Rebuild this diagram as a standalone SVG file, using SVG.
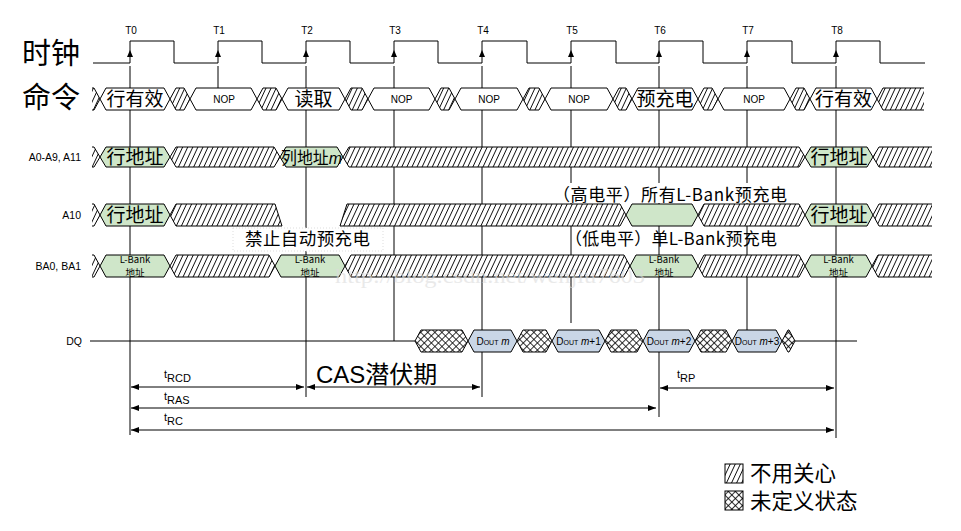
<svg xmlns="http://www.w3.org/2000/svg" width="961" height="531" viewBox="0 0 961 531">
<style>
.ln{stroke:#000;stroke-width:1;fill:none}
.hx{fill:url(#hatch);stroke:#000;stroke-width:1}
.hf{fill:url(#hatch);stroke:none}
.xh{fill:url(#xhatch);stroke:#000;stroke-width:1}
.wh{fill:#fff;stroke:#000;stroke-width:1}
.gr{fill:#cfe6c9;stroke:#000;stroke-width:1}
.bl{fill:#c9d6e6;stroke:#000;stroke-width:1}
.sm{font-family:"Liberation Sans",Arial,sans-serif;font-size:10.5px;fill:#000}
.nop{font-family:"Liberation Sans",Arial,sans-serif;font-size:10px;fill:#000;text-anchor:middle}
.cj{font-family:"Noto Sans CJK SC","Noto Sans",sans-serif;fill:#000}
.hz{font-size:19px;text-anchor:middle}
.lb{font-size:9.5px;text-anchor:middle}
.tm{font-family:"Liberation Sans",Arial,sans-serif;font-size:11px;fill:#000}
.dq{font-family:"Liberation Sans",Arial,sans-serif;font-size:10px;fill:#000;text-anchor:middle}
.sc{font-variant:small-caps}
.ar{stroke:#000;stroke-width:1;fill:none;marker-start:url(#ah);marker-end:url(#ah)}
</style>
<defs>
<pattern id="hatch" patternUnits="userSpaceOnUse" width="4.6" height="10" patternTransform="rotate(25)">
<rect width="4.6" height="10" fill="#fff"/>
<line x1="2.3" y1="-1" x2="2.3" y2="11" stroke="#000" stroke-width="0.9"/>
</pattern>
<pattern id="xhatch" patternUnits="userSpaceOnUse" width="5" height="5" patternTransform="rotate(45)">
<rect width="5" height="5" fill="#fff"/>
<path d="M2.5,0 V5 M0,2.5 H5" stroke="#000" stroke-width="0.8"/>
</pattern>
<marker id="ah" viewBox="0 0 8 6" refX="8" refY="3" markerWidth="8" markerHeight="6" markerUnits="userSpaceOnUse" orient="auto-start-reverse">
<path d="M0,0 L8,3 L0,6 z" fill="#000"/>
</marker>
</defs>
<rect width="961" height="531" fill="#fff"/>

<g id="labels-left">
<text class="cj" x="22" y="63.5" font-size="29">时钟</text>
<text class="cj" x="22" y="107.5" font-size="29">命令</text>
<text class="sm" x="81" y="161" text-anchor="end">A0-A9, A11</text>
<text class="sm" x="81" y="219" text-anchor="end">A10</text>
<text class="sm" x="81" y="270" text-anchor="end">BA0, BA1</text>
<text class="sm" x="82" y="345" text-anchor="end">DQ</text>
</g>

<g id="connectors">
<path class="ln" d="M130,66 V435 M218,66 V88 M306,66 V397 M394,66 V341 M482,66 V397 M571,66 V323 M659,66 V417 M747,66 V330 M836,66 V438"/>
<path class="ar" d="M131,387 H304"/>
<path class="ar" d="M307,387 H480"/>
<path class="ar" d="M131,408 H656"/>
<path class="ar" d="M131,430 H834"/>
<path class="ar" d="M660,388 H834"/>
</g>

<g id="clock">
<path class="ln" d="M93,63 H130 V41 H174 V63 H218 V41 H262 V63 H306 V41 H350 V63 H394 V41 H438 V63 H482 V41 H527 V63 H571 V41 H616 V63 H659 V41 H703 V63 H747 V41 H792 V63 H836 V41 H880 V63 H925"/>
<g fill="#000">
<path d="M130,50 l-3,7 h6 z"/><path d="M218,50 l-3,7 h6 z"/><path d="M306,50 l-3,7 h6 z"/><path d="M394,50 l-3,7 h6 z"/><path d="M482,50 l-3,7 h6 z"/><path d="M571,50 l-3,7 h6 z"/><path d="M659,50 l-3,7 h6 z"/><path d="M747,50 l-3,7 h6 z"/><path d="M836,50 l-3,7 h6 z"/>
</g>
<g class="nop" font-size="10.5">
<text x="131" y="34">T0</text><text x="219" y="34">T1</text><text x="307" y="34">T2</text><text x="395" y="34">T3</text><text x="483" y="34">T4</text><text x="572" y="34">T5</text><text x="660" y="34">T6</text><text x="748" y="34">T7</text><text x="837" y="34">T8</text>
</g>
</g>

<g id="cmd">
<polygon class="hf" points="92,88 94,88 100,99 94,110 92,110"/>
<path class="ln" d="M92,88 H94 L100,99 L94,110 H92"/>
<polygon class="wh" points="100,99 106,88 164,88 170,99 164,110 106,110"/>
<polygon class="hx" points="170,99 176,88 184,88 190,99 184,110 176,110"/>
<polygon class="wh" points="190,99 196,88 251,88 257,99 251,110 196,110"/>
<polygon class="hx" points="257,99 263,88 276,88 282,99 276,110 263,110"/>
<polygon class="wh" points="282,99 288,88 339,88 345,99 339,110 288,110"/>
<polygon class="hx" points="345,99 351,88 362,88 368,99 362,110 351,110"/>
<polygon class="wh" points="368,99 374,88 429,88 435,99 429,110 374,110"/>
<polygon class="hx" points="435,99 441,88 449,88 455,99 449,110 441,110"/>
<polygon class="wh" points="455,99 461,88 517,88 523,99 517,110 461,110"/>
<polygon class="hx" points="523,99 529,88 539,88 545,99 539,110 529,110"/>
<polygon class="wh" points="545,99 551,88 607,88 613,99 607,110 551,110"/>
<polygon class="hx" points="613,99 619,88 626,88 632,99 626,110 619,110"/>
<polygon class="wh" points="632,99 638,88 692,88 698,99 692,110 638,110"/>
<polygon class="hx" points="698,99 704,88 712,88 718,99 712,110 704,110"/>
<polygon class="wh" points="718,99 724,88 784,88 790,99 784,110 724,110"/>
<polygon class="hx" points="790,99 796,88 804,88 810,99 804,110 796,110"/>
<polygon class="wh" points="810,99 816,88 871,88 877,99 871,110 816,110"/>
<polygon class="hf" points="877,99 883,88 924,88 924,110 883,110"/>
<path class="ln" d="M924,88 H883 L877,99 L883,110 H924"/>
<text class="cj hz" x="135" y="106">行有效</text>
<text class="nop" x="224" y="102.5">NOP</text>
<text class="cj hz" x="313.5" y="106">读取</text>
<text class="nop" x="401.5" y="102.5">NOP</text>
<text class="nop" x="489" y="102.5">NOP</text>
<text class="nop" x="579" y="102.5">NOP</text>
<text class="cj hz" x="665" y="106">预充电</text>
<text class="nop" x="754" y="102.5">NOP</text>
<text class="cj hz" x="843.5" y="106">行有效</text>
</g>

<g id="addr">
<polygon class="hf" points="92,147 94,147 100,157 94,167 92,167"/>
<path class="ln" d="M92,147 H94 L100,157 L94,167 H92"/>
<polygon class="gr" points="100,157 106,147 164,147 170,157 164,167 106,167"/>
<polygon class="hx" points="170,157 176,147 274,147 280,157 274,167 176,167"/>
<polygon class="gr" points="280,157 286,147 337,147 343,157 337,167 286,167"/>
<polygon class="hx" points="343,157 349,147 799,147 805,157 799,167 349,167"/>
<polygon class="gr" points="805,157 811,147 867,147 873,157 867,167 811,167"/>
<polygon class="hf" points="873,157 879,147 932,147 932,167 879,167"/>
<path class="ln" d="M932,147 H879 L873,157 L879,167 H932"/>
<text class="cj hz" x="135" y="164">行地址</text>
<text class="cj" x="281" y="163.5" font-size="16.5" textLength="61" lengthAdjust="spacingAndGlyphs">列地址<tspan font-style="italic" font-family="Liberation Sans,sans-serif">m</tspan></text>
<text class="cj hz" x="839" y="164">行地址</text>
</g>

<g id="a10">
<polygon class="hf" points="92,204 94,204 100,215 94,226 92,226"/>
<path class="ln" d="M92,204 H94 L100,215 L94,226 H92"/>
<polygon class="gr" points="100,215 106,204 164,204 170,215 164,226 106,226"/>
<polygon class="hx" points="170,215 176,204 275,204 282,226 176,226"/>
<polygon class="hx" points="340,226 347,204 620,204 626,215 620,226"/>
<polygon class="gr" points="626,215 632,204 692,204 698,215 692,226 632,226"/>
<polygon class="hx" points="698,215 704,204 799,204 805,215 799,226 704,226"/>
<polygon class="gr" points="805,215 811,204 867,204 873,215 867,226 811,226"/>
<polygon class="hf" points="873,215 879,204 932,204 932,226 879,226"/>
<path class="ln" d="M932,204 H879 L873,215 L879,226 H932"/>
<text class="cj hz" x="135" y="222">行地址</text>
<text class="cj hz" x="839" y="222">行地址</text>
</g>

<g id="notes">
<rect x="548" y="183" width="244" height="20" fill="#fff"/>
<text class="cj" x="553" y="201" font-size="17" textLength="234" lengthAdjust="spacing">（高电平）所有L-Bank预充电</text>
<rect x="233" y="228" width="150" height="23" fill="#fff" stroke="#ddd" stroke-dasharray="1 2"/>
<text class="cj" x="245" y="245" font-size="17.5" textLength="125" lengthAdjust="spacing">禁止自动预充电</text>
<text class="cj" x="565" y="245" font-size="17" textLength="212" lengthAdjust="spacing">（低电平）单L-Bank预充电</text>
</g>

<g id="bank">
<polygon class="hf" points="92,255 94,255 100,266 94,277 92,277"/>
<path class="ln" d="M92,255 H94 L100,266 L94,277 H92"/>
<polygon class="gr" points="100,266 106,255 164,255 170,266 164,277 106,277"/>
<polygon class="hx" points="170,266 176,255 269,255 275,266 269,277 176,277"/>
<polygon class="gr" points="275,266 281,255 339,255 345,266 339,277 281,277"/>
<polygon class="hx" points="345,266 351,255 624,255 630,266 624,277 351,277"/>
<polygon class="gr" points="630,266 636,255 692,255 698,266 692,277 636,277"/>
<polygon class="hx" points="698,266 704,255 799,255 805,266 799,277 704,277"/>
<polygon class="gr" points="805,266 811,255 866,255 872,266 866,277 811,277"/>
<polygon class="hf" points="872,266 878,255 932,255 932,277 878,277"/>
<path class="ln" d="M932,255 H878 L872,266 L878,277 H932"/>
<g class="cj lb">
<text x="135" y="263">L-Bank</text><text x="135" y="276">地址</text>
<text x="310" y="263">L-Bank</text><text x="310" y="276">地址</text>
<text x="664" y="263">L-Bank</text><text x="664" y="276">地址</text>
<text x="838.5" y="263">L-Bank</text><text x="838.5" y="276">地址</text>
</g>
</g>

<g id="dq">
<path class="ln" d="M90,341 H415 M795,341 H857"/>
<polygon class="xh" points="415,341 421,330 462,330 468,341 462,352 421,352"/>
<polygon class="bl" points="468,341 474,330 511,330 517,341 511,352 474,352"/>
<polygon class="xh" points="517,341 523,330 546,330 552,341 546,352 523,352"/>
<polygon class="bl" points="552,341 558,330 599,330 605,341 599,352 558,352"/>
<polygon class="xh" points="605,341 611,330 637,330 643,341 637,352 611,352"/>
<polygon class="bl" points="643,341 649,330 689,330 695,341 689,352 649,352"/>
<polygon class="xh" points="695,341 701,330 726,330 732,341 726,352 701,352"/>
<polygon class="bl" points="732,341 738,330 776,330 782,341 776,352 738,352"/>
<polygon class="xh" points="782,341 788,330 789,330 795,341 789,352 788,352"/>
<text class="dq" x="493" y="345">D<tspan class="sc">out</tspan> <tspan font-style="italic">m</tspan></text>
<text class="dq" x="578.5" y="345">D<tspan class="sc">out</tspan> <tspan font-style="italic">m</tspan>+1</text>
<text class="dq" x="669" y="345">D<tspan class="sc">out</tspan> <tspan font-style="italic">m</tspan>+2</text>
<text class="dq" x="757" y="345">D<tspan class="sc">out</tspan> <tspan font-style="italic">m</tspan>+3</text>
</g>

<g id="timing-labels">
<text class="tm" x="164" y="378">t<tspan dy="4">RCD</tspan></text>
<text class="tm" x="164" y="400">t<tspan dy="4">RAS</tspan></text>
<text class="tm" x="164" y="421">t<tspan dy="4">RC</tspan></text>
<text class="tm" x="677" y="378">t<tspan dy="4">RP</tspan></text>
<text x="316" y="383" font-family="Liberation Sans,Noto Sans CJK SC,sans-serif" font-size="24" fill="#000">CAS<tspan font-family="Noto Sans CJK SC,sans-serif">潜伏期</tspan></text>
</g>

<g id="legend">
<rect x="725" y="464" width="18" height="19" fill="url(#hatch)" stroke="#000"/>
<text class="cj" x="750" y="480.5" font-size="21.5">不用关心</text>
<rect x="725" y="491" width="18" height="19" fill="url(#xhatch)" stroke="#000"/>
<text class="cj" x="750" y="508.5" font-size="21.5">未定义状态</text>
</g>

<text x="335" y="283" font-family="Liberation Serif,serif" font-size="21" fill="#dcdcdc" opacity="0.6" textLength="310" lengthAdjust="spacingAndGlyphs">http://blog.csdn.net/wenjiu7603</text>
</svg>
